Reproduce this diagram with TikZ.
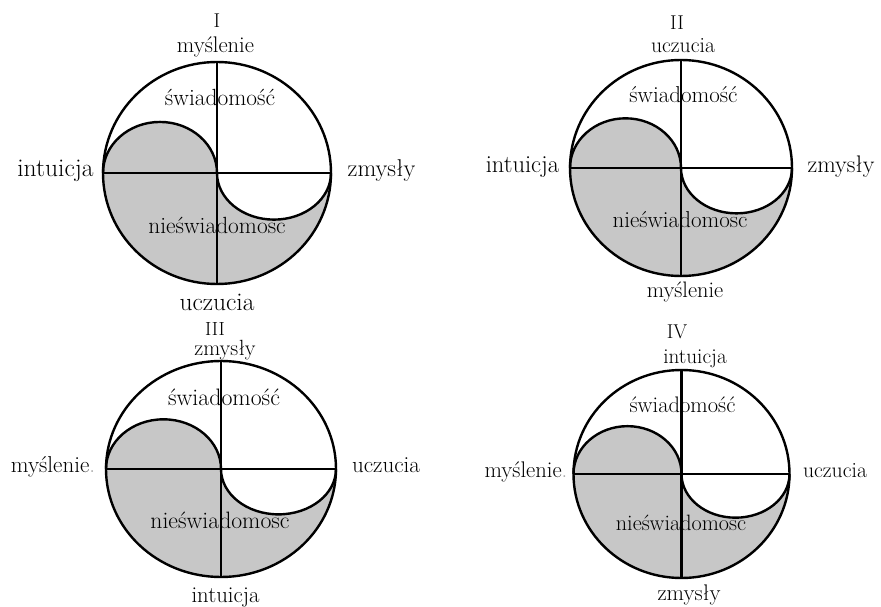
\documentclass[tikz,border=0pt]{standalone}
\usepackage{fontspec}
\begin{document}
\begin{tikzpicture}[x=1pt,y=1pt,
  lab/.style={anchor=base,inner sep=0pt,font=\fontsize{#1}{#1}\selectfont},
  outline/.style={line width=2.4pt,black},
  shadefill/.style={fill=black!22}]
\fill[white] (0,0) rectangle (881,606);
\useasboundingbox (0,0) rectangle (881,606);
\foreach \n/\cx/\cy/\rx/\ry in {A/217/433/114/111, B/681/438/111/108, C/221/137/115/108, D/681.5/132/108/104}{
  \coordinate (\n-c) at (\cx,\cy);
  \coordinate (\n-l) at (\cx-\rx,\cy);
  \coordinate (\n-r) at (\cx+\rx,\cy);
  \coordinate (\n-t) at (\cx,\cy+\ry);
  \coordinate (\n-b) at (\cx,\cy-\ry);
  \fill[shadefill] (\n-l) arc[start angle=180,end angle=360,x radius=\rx,y radius=\ry]
     arc[start angle=0,end angle=-180,x radius=\rx/2,y radius=0.42*\ry]
     arc[start angle=0,end angle=180,x radius=\rx/2,y radius=0.46*\ry] -- cycle;
  \draw[outline] (\n-c) arc[start angle=180,end angle=360,x radius=\rx/2,y radius=0.42*\ry];
  \draw[outline] (\n-c) arc[start angle=0,end angle=180,x radius=\rx/2,y radius=0.46*\ry];
  \draw[outline] (\n-c) ellipse[x radius=\rx,y radius=\ry];
  \draw[outline] (\n-l) -- (\n-r);
  \draw[outline] (\n-t) -- (\n-b);
}
% Panel I
\node[lab=20] (A-num) at (217,606-28) {I};
\node[lab=22.6] (A-top) at (215.5,606-53) {myślenie};
\node[lab=25.5] (A-left) at (55.5,606-177) {intuicja};
\node[lab=24.3] (A-right) at (381.5,606-177) {zmysły};
\node[lab=25.4] (A-bot) at (217,606-311) {uczucia};
\node[lab=23.4] (A-sw) at (220,606-106) {świadomość};
\node[lab=23.4] (A-ns) at (217,606-234) {nieświadomosc};
% Panel II
\node[lab=20] (B-num) at (677,606-30) {II};
\node[lab=21.7] (B-top) at (683,606-53) {uczucia};
\node[lab=24.5] (B-left) at (522.5,606-173) {intuicja};
\node[lab=24] (B-right) at (841,606-173) {zmysły};
\node[lab=22.4] (B-bot) at (685,606-298) {myślenie};
\node[lab=23] (B-sw) at (683.5,606-103) {świadomość};
\node[lab=23] (B-ns) at (680,606-228) {nieświadomosc};
% Panel III
\node[lab=19] (C-num) at (215,606-335) {III};
\node[lab=22] (C-top) at (225,606-355) {zmysły};
\node[lab=23] (C-left) at (53,606-472) {myślenie\textcolor{black!35}{.}};
\node[lab=23] (C-right) at (386,606-472) {uczucia};
\node[lab=22.7] (C-bot) at (225.5,606-602) {intuicja};
\node[lab=23.8] (C-sw) at (224,606-405) {świadomość};
\node[lab=23.7] (C-ns) at (220,606-528) {nieświadomosc};
% Panel IV
\node[lab=20] (D-num) at (677,606-339) {IV};
\node[lab=21.2] (D-top) at (695,606-363) {intuicja};
\node[lab=22.6] (D-left) at (526,606-477) {myślenie\textcolor{black!35}{.}};
\node[lab=21.7] (D-right) at (835,606-477) {uczucia};
\node[lab=22.6] (D-bot) at (689,606-600) {zmysły};
\node[lab=22.5] (D-sw) at (682.5,606-412) {świadomość};
\node[lab=22.2] (D-ns) at (681,606-530) {nieświadomosc};
\end{tikzpicture}
\end{document}
